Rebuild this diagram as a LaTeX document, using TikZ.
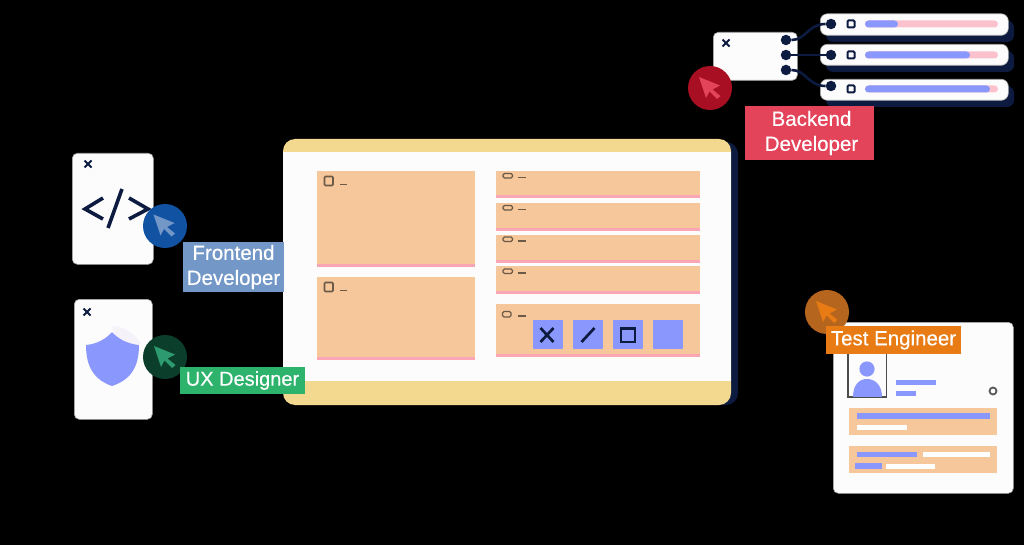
\documentclass[tikz,border=0pt]{standalone}
\usepackage{fontspec}
\setmainfont[FakeBold=0.25]{Liberation Sans}
\definecolor{navy}{HTML}{0C1B3F}
\definecolor{cardw}{HTML}{FCFCFD}
\definecolor{sand}{HTML}{F3D98F}
\definecolor{peach}{HTML}{F6C79A}
\definecolor{rosebar}{HTML}{FBA6B4}
\definecolor{peri}{HTML}{8A97FC}
\definecolor{lightrose}{HTML}{FBC2CE}
\definecolor{redlab}{HTML}{E4445A}
\definecolor{redcirc}{HTML}{A90F22}
\definecolor{bluelab}{HTML}{7398C8}
\definecolor{bluecirc}{HTML}{1252A3}
\definecolor{greenlab}{HTML}{2DB36B}
\definecolor{greencirc}{HTML}{0B3F2B}
\definecolor{greencur}{HTML}{2E9A70}
\definecolor{orangelab}{HTML}{E97B14}
\definecolor{orangecirc}{HTML}{B5651D}
\definecolor{smudge}{HTML}{6B5A48}
\definecolor{haze}{HTML}{F5F3F9}
\tikzset{
  x=1pt,y=-1pt,
  card/.style={fill=cardw,rounded corners=5pt,draw=black!35,line width=.6pt,inner sep=0pt,anchor=north west},
  slat/.style={card,rounded corners=7pt,minimum width=188pt},
  panel/.style={fill=peach},
  underbar/.style={fill=rosebar},
  tag/.style={text=white,inner sep=0pt,font=\fontsize{20.5}{25}\selectfont,align=center},
  badge/.style={circle,inner sep=0pt,minimum size=44pt},
  pin/.style={circle,fill=navy,inner sep=0pt,minimum size=10.5pt},
  wire/.style={navy,line width=2.6pt},
  darkink/.style={draw=smudge,line width=1.3pt},
  btnink/.style={navy,line width=2.7pt},
  codeink/.style={draw=navy,line width=3.6pt},
  pics/pointer/.style={code={
    \fill[#1] (0,0) -- (21,8.5) -- (13.5,12.5) -- (21.5,19) -- (18,22) -- (10.5,14.5) -- (7,21) -- cycle;
  }},
  pics/cross/.style={code={
    \draw[navy,line width=2pt] (-3.5,-3.5) -- (3.5,3.5) (-3.5,3.5) -- (3.5,-3.5);
  }},
  pics/marks/.style={code={
    \draw[darkink,line width=1.1pt,rounded corners=1.5pt] (0,0) rectangle (9.5,4.5);
    \draw[smudge,line width=1.1pt] (15,4) -- ++(8,0);
  }}
}
\begin{document}
\begin{tikzpicture}
\useasboundingbox (0,0) rectangle (1024,545);
\fill[black] (0,0) rectangle (1024,545);

% --- main window
\fill[navy,rounded corners=12pt] (290,142) rectangle (738,405);
\fill[sand,rounded corners=12pt] (283,139) rectangle (731,405);
\fill[cardw] (283,152) rectangle (731,381);
\foreach \ya/\yb in {171/267,277/360}{
  \fill[panel] (317,\ya) rectangle (475,\yb);
  \fill[underbar] (317,\yb-3) rectangle (475,\yb);
}
\draw[darkink,line width=1.6pt,rounded corners=1pt] (324.5,176.5) rectangle (333,185.5);
\draw[smudge,line width=1.2pt] (339.5,184.5) -- (347,184.5);
\draw[darkink,line width=1.6pt,rounded corners=1pt] (324.5,282.5) rectangle (333,291.5);
\draw[smudge,line width=1.2pt] (339.5,290.5) -- (347,290.5);
\foreach \ya/\yb in {171/198,203/231,235/263,266/294,304/357}{
  \fill[panel] (496,\ya) rectangle (700,\yb);
  \fill[underbar] (496,\yb-3) rectangle (700,\yb);
}
\foreach \yy in {173.5,205.5,237,269}{
  \pic at (503,\yy) {marks};
}
\draw[darkink,rounded corners=1.5pt] (502.5,311.5) rectangle (511,317);
\draw[smudge,line width=1.2pt] (518,316) -- (525.5,316);
\foreach \xa in {533,573,613,653}{
  \fill[peri] (\xa,320) rectangle (\xa+30,349);
}
\draw[btnink] (540.5,328) -- (553.5,342) (540.5,342) -- (553.5,328);
\draw[btnink] (581.5,342) -- (594.5,328);
\draw[btnink] (621,328.5) rectangle (635,342);

% --- backend
\foreach \ya/\yb in {13.5/35,44/65,79/100}{
  \fill[navy,rounded corners=7pt] (826,\ya+7) rectangle (1014,\yb+7);
}
\node[slat,minimum height=21.5pt] (rowa) at (820,13.5) {};
\node[slat,minimum height=21pt] (rowb) at (820,44) {};
\node[slat,minimum height=21pt] (rowc) at (820,79) {};
\node[card,minimum width=84pt,minimum height=48pt] (srv) at (713,32) {};
\pic at (726,43) {cross};
\node[pin] (sa) at (786,40) {};
\node[pin] (sb) at (786,55) {};
\node[pin] (sc) at (786,70) {};
\node[pin] (ra) at (831,24) {};
\node[pin] (rb) at (831,55) {};
\node[pin] (rc) at (831,86) {};
\draw[wire] (sa) .. controls (806,40) and (808,24) .. (ra);
\draw[wire] (sb) -- (rb);
\draw[wire] (sc) .. controls (806,70) and (808,86) .. (rc);
\foreach \yy/\xe in {24/898,55/970,89/990}{
  \draw[navy,line width=2pt,rounded corners=1pt] (847.5,\yy-3.5) rectangle (854.5,\yy+3.5);
  \fill[lightrose,rounded corners=3.5pt] (865,\yy-3.5) rectangle (998,\yy+3.5);
  \fill[peri,rounded corners=3.5pt] (865,\yy-3.5) rectangle (\xe,\yy+3.5);
}
\node[badge,fill=redcirc] (bb) at (710,88) {};
\pic at (699,77) {pointer=redlab};
\node[tag,fill=redlab,minimum width=129pt,minimum height=54pt] (bl) at (809.5,133) {\hspace*{4pt}Backend\\\hspace*{4pt}Developer};

% --- frontend
\node[card,minimum width=81pt,minimum height=111pt] (fc) at (72,153) {};
\pic at (88,164) {cross};
\draw[codeink] (103,198) -- (85,209) -- (103,219);
\draw[codeink] (122,189) -- (108,228);
\draw[codeink] (129,198) -- (148,209) -- (129,219);
\node[badge,fill=bluecirc] (fb) at (165,226) {};
\pic at (153.5,214.5) {pointer=bluelab};
\node[tag,fill=bluelab,minimum width=101pt,minimum height=50pt] (fl) at (233.5,267) {Frontend\\Developer};

% --- ux
\node[card,minimum width=78pt,minimum height=120pt] (uc) at (74,299) {};
\pic at (87,312) {cross};
\fill[haze] (112,326) .. controls (125,326) and (136,335) .. (141,344) -- (118,345) -- cycle;
\fill[peri] (112,332) .. controls (118,339) and (128,344) .. (139,345)
  .. controls (139,368) and (130,380) .. (112,386)
  .. controls (95,380) and (86,368) .. (86,345)
  .. controls (97,344) and (106,339) .. (112,332) -- cycle;
\node[badge,fill=greencirc] (ub) at (165,357) {};
\pic at (154,346) {pointer=greencur};

% --- test
\node[card,minimum width=180pt,minimum height=171pt] (tc) at (833,322) {};
\draw[black!70,line width=1.2pt] (848,350) rectangle (886.5,397);
\begin{scope}
\clip (848,350) rectangle (887,396.4);
\fill[peri] (867,369) circle[radius=7.6];
\fill[peri] (853,397) .. controls (853,385) and (859,379) .. (867,379) .. controls (875,379) and (882,385) .. (882,397) -- cycle;
\end{scope}
\fill[peri] (896,379.5) rectangle (936,385);
\fill[peri] (896,390.5) rectangle (916,396);
\draw[black!65,line width=1.8pt] (993,391) circle[radius=3.5];
\fill[peach] (849,408) rectangle (997,435);
\fill[peri] (857,413) rectangle (990,418.5);
\fill[white] (857,424.5) rectangle (907,430);
\fill[peach] (849,446) rectangle (997,473);
\fill[peri] (857,451.5) rectangle (917,457);
\fill[white] (923,452) rectangle (990,457);
\fill[peri] (855,463) rectangle (882,468.5);
\fill[white] (886,463.5) rectangle (935,468.5);
\node[badge,fill=orangecirc] (tb) at (827,312) {};
\pic at (816,301) {pointer=orangelab};
\node[tag,fill=orangelab,minimum width=135pt,minimum height=28pt] (tl) at (893.5,340) {Test Engineer};

% --- ux label (over window)
\node[tag,font=\fontsize{20}{25}\selectfont,fill=greenlab,minimum width=125pt,minimum height=27pt] (ul) at (242.5,380.5) {UX Designer};
\end{tikzpicture}
\end{document}
